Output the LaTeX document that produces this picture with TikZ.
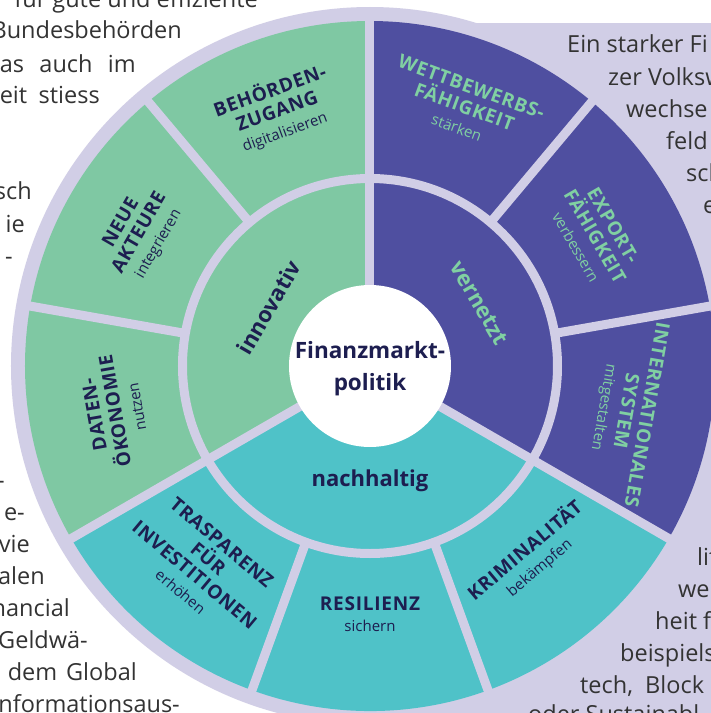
\documentclass[tikz,border=0pt]{standalone}
\usepackage{fontspec}
\setmainfont{Open Sans}
\newfontfamily\capsfont[LetterSpace=4]{Open Sans}
\newfontfamily\plainfont{Open Sans}

\definecolor{lavender}{HTML}{D1CEE6}
\definecolor{greenfill}{HTML}{7FC8A3}
\definecolor{purplefill}{HTML}{4F4FA0}
\definecolor{tealfill}{HTML}{4FC2C8}
\definecolor{navy}{HTML}{1D1E50}
\definecolor{greentext}{HTML}{80D0A2}
\definecolor{bodytext}{HTML}{333333}

\newcommand\sublabel[1]{{\plainfont\mdseries\fontsize{15}{17}\selectfont #1}}

\begin{document}
\begin{tikzpicture}[x=1pt, y=1pt,
  body/.style={font=\fontsize{23.5}{28}\selectfont, text=bodytext, inner sep=0pt},
  divider/.style={draw=lavender, line width=9pt},
  outer label/.style={align=center, inner sep=0pt, text=navy,
    font=\capsfont\bfseries\fontsize{19}{21}\selectfont},
  inner label/.style={inner sep=0pt, text=navy,
    font=\bfseries\fontsize{22}{26}\selectfont}]
  \useasboundingbox (-370,-347) rectangle (341,366);
  \clip (-370,-347) rectangle (341,366);
  \fill[white] (-370,-347) rectangle (341,366);

  % lavender backdrop
  \fill[lavender] (0,0) circle [radius=359];
  \fill[lavender] (1,343) rectangle (341,-347);

  % the three coloured thirds
  \foreach \from/\to/\col in {90/210/greenfill, -30/90/purplefill, 210/330/tealfill}{
    \fill[\col] (0,0) -- (\from:345) arc [start angle=\from, end angle=\to, radius=345] -- cycle;
  }

  \draw[divider] (0,0) circle [radius=187.5];
  \foreach \a in {90,210,330}{
    \draw[divider] (\a:70) -- (\a:350);
  }
  \foreach \a in {130,170,10,50,250,290}{
    \draw[divider] (\a:187) -- (\a:350);
  }
  \fill[white] (0,0) circle [radius=81];

  \node[align=center, text=navy, font=\bfseries\fontsize{22.5}{32}\selectfont] (hub) at (0,-3) {Finanzmarkt-\\politik};

  \node[inner label, rotate=60] (innovativ) at (150:117) {innovativ};
  \node[inner label, text=greentext, rotate=-60] (vernetzt) at (30:126) {vernetzt};
  \node[inner label] (nachhaltig) at (270:115) {nachhaltig};

  \node[outer label, rotate=20] (behoerden) at (110:272) {BEHÖRDEN-\\ZUGANG\\\sublabel{digitalisieren}};
  \node[outer label, rotate=60] (akteure) at (150:266) {NEUE\\AKTEURE\\\sublabel{integrieren}};
  \node[outer label, rotate=100] (daten) at (190:259) {DATEN-\\ÖKONOMIE\\\sublabel{nutzen}};
  \node[outer label, text=greentext, rotate=-20] (wettbewerb) at (70:276) {WETTBEWERBS-\\FÄHIGKEIT\\\sublabel{stärken}};
  \node[outer label, text=greentext, rotate=-60] (export) at (30:260) {EXPORT-\\FÄHIGKEIT\\\sublabel{verbessern}};
  \node[outer label, text=greentext, rotate=-100] (system) at (-10:259) {INTERNATIONALES\\SYSTEM\\\sublabel{mitgestalten}};
  \node[outer label, rotate=-40] (transparenz) at (230:262) {TRASPARENZ\\FÜR\\INVESTITIONEN\\\sublabel{erhöhen}};
  \node[outer label] (resilienz) at (270:248) {RESILIENZ\\\sublabel{sichern}};
  \node[outer label, rotate=40] (kriminalitaet) at (310:251) {KRIMINALITÄT\\\sublabel{bekämpfen}};

  % running text around the figure
  \foreach \x/\y/\t [count=\i] in {-112/358/{für gute und effiziente}, -188/327/Bundesbehörden,
      -234/294/{\makebox[136pt][s]{as auch im}}, -270/263/{\makebox[100pt][s]{eit stiess}},
      -338/167/sch, -345/134/ie, -357/102/-, -365/-122/-, -345/-154/e-, -340/-186/vie,
      -325/-218/alen, -300/-250/nancial, -282/-282/Geldwä-,
      -233/-314/{\makebox[129pt][s]{dem Global}}, -190/-346/nformationsaus-}{
    \node[body, anchor=base east] (left\i) at (\x,\y) {\t};
  }
  \foreach \x/\y/\t [count=\i] in {197/313/{Ein starker Fi}, 238/281/{zer Volksw}, 256/249/wechse,
      296/217/feld, 316/185/sch, 333/153/e, 327/-199/lit, 308/-231/we, 285/-263/{heit f},
      250/-295/beispiels, 210/-327/{tech,\ \ Block}, 158/-356/{oder Sustainabl}}{
    \node[body, anchor=base west] (right\i) at (\x,\y) {\t};
  }
\end{tikzpicture}
\end{document}
